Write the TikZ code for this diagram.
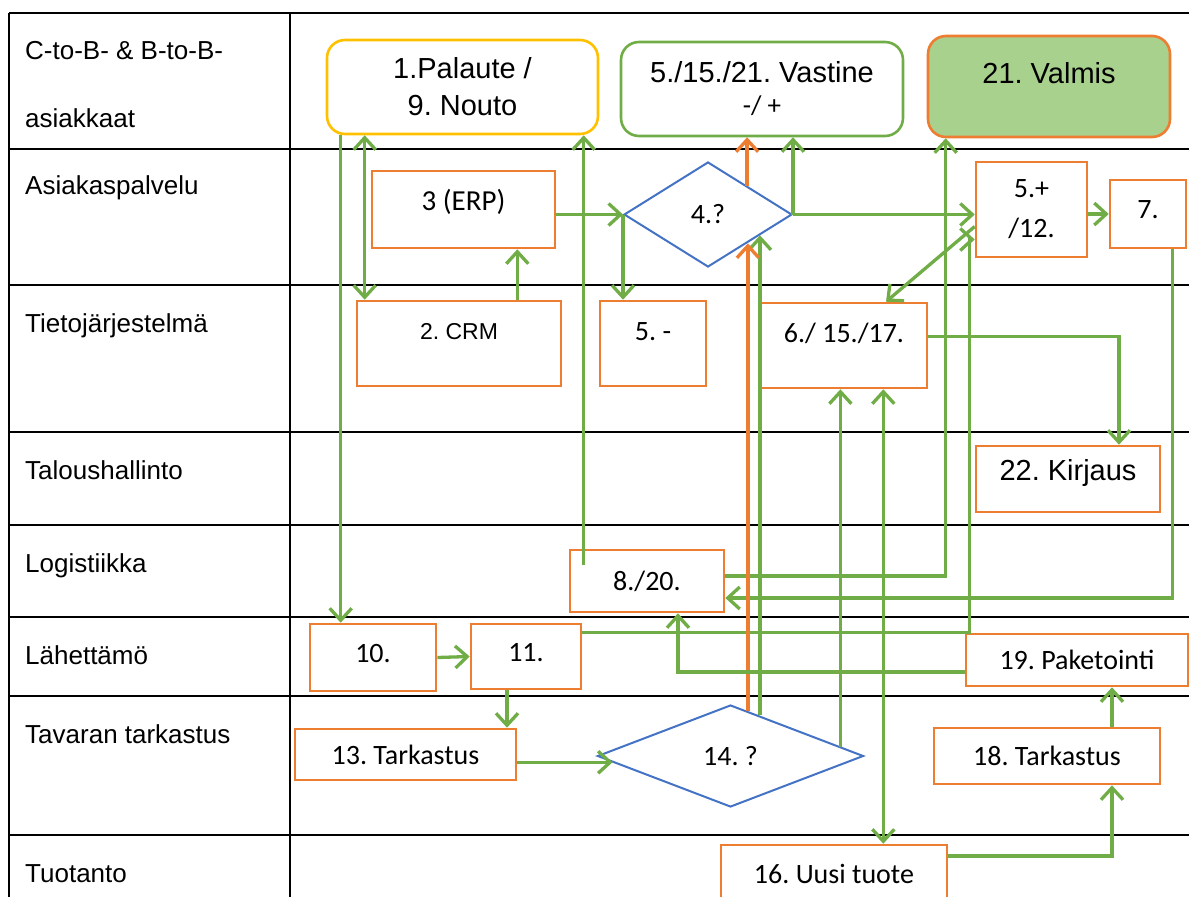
\documentclass[tikz,border=0pt]{standalone}
\usepackage{fontspec}
\setmainfont{Liberation Sans}
\newfontfamily\calibrifont{Carlito}
\definecolor{flowgreen}{RGB}{112,173,71}
\definecolor{boxorange}{RGB}{237,125,49}
\definecolor{boxyellow}{RGB}{255,192,0}
\definecolor{diamblue}{RGB}{68,114,196}
\definecolor{donegreen}{RGB}{169,209,142}
\usetikzlibrary{shapes.geometric,arrows.meta,calc}

\begin{document}
\frenchspacing
\begin{tikzpicture}[
    x=1pt, y=-1pt,
    >={Straight Barb[length=12pt,width=22pt]},
    lane/.style={anchor=base west, inner sep=0pt, font=\fontsize{26}{31}\selectfont},
    grid/.style={line width=2.6pt, black},
    stepbox/.style={draw=boxorange, line width=2.6pt, inner sep=0pt, align=center,
      font=\calibrifont\fontsize{28}{34}\selectfont},
    roundbox/.style={rounded corners=18pt, line width=2.6pt, inner sep=0pt, align=center,
      font=\fontsize{29}{37}\selectfont},
    decision/.style={diamond, draw=diamblue, line width=2pt, inner sep=0pt,
      font=\calibrifont\fontsize{28}{34}\selectfont},
    lift/.style={text depth=#1},
    flow/.style={draw=flowgreen, line width=3.3pt, ->},
    flowback/.style={draw=boxorange, line width=3.3pt, ->}
  ]
  \useasboundingbox (0,0) rectangle (1189,897);
  \clip (0,0) rectangle (1189,897);

  \foreach \y in {13,149,285,432,525,617,696,835}
    \draw[grid] (9,\y) -- (1189,\y);
  \draw[grid] (9,13) -- (9,897);
  \draw[grid] (290,13) -- (290,897);

  \foreach \t/\y [count=\i] in {C-to-B- \& B-to-B-/59, asiakkaat/127,
      Asiakaspalvelu/194, Tietojärjestelmä/332, Taloushallinto/479,
      Logistiikka/572, Lähettämö/664, Tavaran tarkastus/743, Tuotanto/882}
    \node[lane] (lane\i) at (25,\y) {\t};

  \node[roundbox, draw=boxyellow, minimum width=271, minimum height=94] (palaute)
    at (462.5,87) {1.Palaute /\\9. Nouto};
  \node[roundbox, draw=flowgreen, minimum width=282, minimum height=94] (vastine)
    at (762,89) {5./15./21. Vastine\\[-5pt]{\calibrifont\fontsize{27}{32}\selectfont -/ +}};
  \node[roundbox, draw=boxorange, fill=donegreen, minimum width=242, minimum height=101,
    lift=27pt] (valmis) at (1049,86.5) {21. Valmis};

  \node[stepbox, font=\calibrifont\fontsize{29}{34}\selectfont, minimum width=183,
    minimum height=77, lift=20pt] (erp) at (463.5,209.5) {3 (ERP)};
  \node[decision, minimum width=168, minimum height=105] (d4) at (708,214.5) {4.?};
  \node[stepbox, minimum width=111, minimum height=95] (b5p) at (1031.5,209.5) {5.+\\[6pt]/12.};
  \node[stepbox, minimum width=76, minimum height=68, lift=8pt] (b7) at (1148,214) {7.};

  \node[stepbox, font=\fontsize{23}{28}\selectfont, minimum width=204, minimum height=85,
    lift=24pt] (crm) at (459,343.5) {2. CRM};
  \node[stepbox, minimum width=106, minimum height=85, lift=23pt] (b5m) at (653,343.5) {5. -};
  \node[stepbox, minimum width=166, minimum height=85, lift=26pt] (b6) at (844,345.5) {6./ 15./17.};
  \node[stepbox, font=\fontsize{29}{34}\selectfont, minimum width=184, minimum height=66,
    lift=18pt] (kirjaus) at (1068,479) {22. Kirjaus};
  \node[stepbox, minimum width=154, minimum height=62] (b8) at (647,581) {8./20.};

  \node[stepbox, minimum width=126, minimum height=67, lift=8pt] (b10) at (373,657.5) {10.};
  \node[stepbox, minimum width=110, minimum height=65, lift=8pt] (b11) at (526,656.5) {11.};
  \node[stepbox, minimum width=222, minimum height=52] (b19) at (1077,660) {19. Paketointi};
  \node[stepbox, minimum width=221, minimum height=51] (b13) at (405.5,754.5) {13. Tarkastus};
  \node[decision, minimum width=266, minimum height=102] (d14) at (730.5,756) {14. ?};
  \node[stepbox, minimum width=226, minimum height=56] (b18) at (1047,756) {18. Tarkastus};
  \node[stepbox, minimum width=226, minimum height=58] (b16) at (834,874) {16. Uusi tuote};

  \coordinate (o14) at ($(d14.north)!0.13!(d14.east)$);
  \coordinate (g14) at ($(d14.north)!0.22!(d14.east)$);
  \coordinate (r14) at ($(d14.north)!0.82!(d14.east)$);
  \coordinate (w14) at ($(d14.west)!0.12!(d14.south)$);
  \coordinate (o4low) at ($(d4.south)!0.46!(d4.east)$);
  \coordinate (g4low) at ($(d4.south)!0.61!(d4.east)$);
  \coordinate (o4up) at ($(d4.north)!0.46!(d4.east)$);

  \draw[flow] ([xshift=15pt]palaute.south west) -- ([xshift=15pt]palaute.south west |- b10.north);
  \draw[flow, <->] ([xshift=9pt]crm.north west |- palaute.south) -- ([xshift=9pt]crm.north west);
  \draw[flow] ([xshift=-45pt]crm.north east) -- ([xshift=-45pt]crm.north east |- erp.south);
  \draw[flow] ([shift={(15pt,-16pt)}]b8.north west) -- ([xshift=15pt]b8.north west |- palaute.south);
  \draw[flow] (erp.east |- d4.west) -- (d4.west);
  \draw[flow] (d4.west) -- (d4.west |- b5m.north);
  \draw[flow] (d4.east) -- (d4.east |- vastine.south);
  \draw[flow] (d4.east) -- (d4.east -| b5p.west);
  \draw[flow] (b5p.east |- b7.west) -- (b7.west);
  \draw[flow] ([xshift=-15pt]b7.south east) |- ([yshift=-17pt]b8.east);
  \draw[flow] ([yshift=5pt]b8.east) -| ([xshift=19pt]valmis.south west);
  \draw[flow] ([yshift=24pt]b11.east) -| ([shift={(-5pt,-30pt)}]b5p.west) -- ([yshift=-30pt]b5p.west);
  \draw[flow] ([yshift=-17pt]b5p.west) -- ([xshift=42pt]b6.north);
  \draw[flow] ([yshift=9pt]b6.east) -| ([xshift=51pt]kirjaus.north);
  \draw[flow] (r14) -- (r14 |- b6.south);
  \draw[flow, <->] ([xshift=-45pt]b6.south east) -- ([xshift=-45pt]b6.south east |- b16.north);
  \draw[flow] (g14) -- (g14 |- g4low);
  \draw[flowback] (o14) -- (o14 |- o4low);
  \draw[flowback] (o4up) -- (o4up |- vastine.south);
  \draw[flow] ([yshift=-12pt]b19.west) -| ([xshift=31pt]b8.south);
  \draw[flow] ([xshift=65pt]b18.north) -- ([xshift=65pt]b18.north |- b19.south);
  \draw[flow] ([yshift=18pt]b16.east) -| ([xshift=65pt]b18.south);
  \draw[flow] (b10.east) -- (b11.west);
  \draw[flow] ([xshift=-19pt]b11.south) -- ([xshift=-19pt]b11.south |- b13.north);
  \draw[flow] (b13.east |- w14) -- (w14);
\end{tikzpicture}
\end{document}
